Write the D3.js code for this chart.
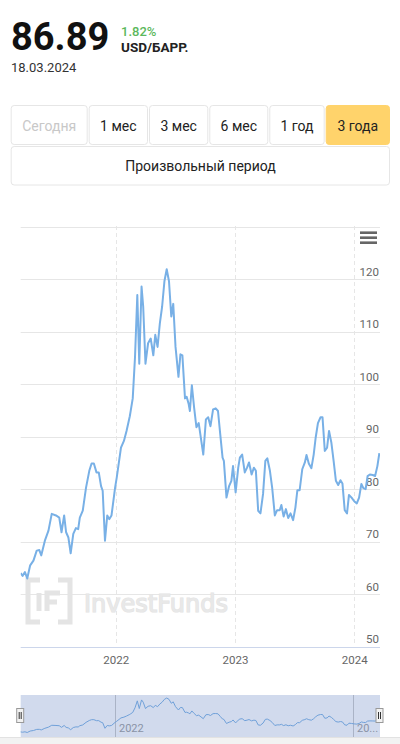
<!DOCTYPE html>
<html><head><meta charset="utf-8">
<script src="https://cdn.jsdelivr.net/npm/d3@7"></script>
<style>
html,body{margin:0;padding:0;background:#fff;}
svg{display:block;font-family:Roboto,"Noto Sans",sans-serif;}
</style></head>
<body>
<svg id="c" width="400" height="744"></svg>
<script>
// ---------- data ----------
const price = "86.89";
const change = "1.82%";
const unit = "USD/БАРР.";
const priceDate = "18.03.2024";
const periodLabels = ["Сегодня","1 мес","3 мес","6 мес","1 год","3 года"];
const customLabel = "Произвольный период";
const yTicks = [50,60,70,80,90,100,110,120];
const yGrid = [50,60,70,80,90,100,110,120,130];
const xTickYears = ["2022","2023","2024"];
const navTickLabels = ["2022","20..."];

const dates = [
"2021-03-16","2021-03-22","2021-03-29","2021-04-05","2021-04-14","2021-04-24","2021-05-04","2021-05-12","2021-05-18","2021-05-29",
"2021-06-09","2021-06-19","2021-07-02","2021-07-12","2021-07-19","2021-07-27","2021-08-02","2021-08-09","2021-08-16","2021-08-24",
"2021-09-01","2021-09-08","2021-09-13","2021-09-22","2021-10-02","2021-10-12","2021-10-19","2021-10-26","2021-11-03","2021-11-10",
"2021-11-17","2021-11-22","2021-11-29","2021-12-06","2021-12-12","2021-12-19","2021-12-30","2022-01-04","2022-01-17","2022-01-26",
"2022-02-03","2022-02-13","2022-02-16","2022-02-22","2022-03-01","2022-03-08","2022-03-14","2022-03-21","2022-03-26","2022-04-02",
"2022-04-10","2022-04-18","2022-04-26","2022-05-02","2022-05-09","2022-05-16","2022-05-23","2022-05-30","2022-06-06","2022-06-13",
"2022-06-20","2022-06-26","2022-07-03","2022-07-12","2022-07-18","2022-07-24","2022-08-01","2022-08-06","2022-08-12","2022-08-16",
"2022-08-22","2022-08-29","2022-09-05","2022-09-12","2022-09-26","2022-10-04","2022-10-11","2022-10-18","2022-10-26","2022-11-03",
"2022-11-10","2022-11-17","2022-11-24","2022-11-28","2022-12-06","2022-12-14","2022-12-21","2022-12-26","2023-01-03","2023-01-11",
"2023-01-16","2023-01-23","2023-01-31","2023-02-07","2023-02-13","2023-02-21","2023-02-28","2023-03-06","2023-03-13","2023-03-20",
"2023-03-28","2023-04-04","2023-04-10","2023-04-18","2023-04-25","2023-05-03","2023-05-10","2023-05-18","2023-05-23","2023-05-30",
"2023-06-06","2023-06-13","2023-06-20","2023-06-28","2023-07-05","2023-07-11","2023-07-18","2023-07-26","2023-08-03","2023-08-08",
"2023-08-15","2023-08-23","2023-08-30","2023-09-05","2023-09-12","2023-09-20","2023-09-26","2023-10-03","2023-10-10","2023-10-16",
"2023-10-23","2023-10-30","2023-11-06","2023-11-13","2023-11-20","2023-11-26","2023-12-03","2023-12-10","2023-12-16","2023-12-24",
"2024-01-01","2024-01-09","2024-01-16","2024-01-23","2024-01-29","2024-02-05","2024-02-11","2024-02-18","2024-02-27","2024-03-05",
"2024-03-12","2024-03-18"
];
const values = [
64.0,63.5,64.2,63.0,65.5,66.4,68.3,68.4,67.4,70.2,
72.1,75.3,75.0,74.6,71.8,75.0,71.8,70.8,67.8,71.5,
72.6,72.4,74.6,75.9,80.3,83.5,84.9,84.9,83.2,83.2,
80.6,79.7,70.2,75.0,74.3,75.0,80.3,82.2,87.9,89.2,
91.1,93.9,95.0,97.3,105.2,117.0,103.9,118.6,114.8,103.9,
107.8,108.7,105.5,109.4,107.1,111.6,114.8,119.6,121.9,119.6,
112.9,115.3,107.1,101.4,105.7,105.5,97.3,97.6,96.3,94.9,
99.8,95.5,91.8,92.6,86.6,93.3,93.7,92.0,95.2,95.4,
94.9,90.4,86.0,85.4,78.4,80.6,81.6,84.4,79.4,84.1,
86.0,86.6,83.2,84.1,85.1,82.8,84.1,83.5,75.9,75.4,
79.1,85.4,85.9,83.5,80.2,75.0,76.0,76.0,77.0,74.8,
76.2,74.5,75.4,74.1,76.5,79.8,79.8,83.8,85.1,86.5,
84.9,84.0,86.6,89.8,92.6,93.7,93.7,87.3,87.9,91.1,
88.9,85.4,81.6,80.8,81.7,81.1,76.0,75.4,78.9,78.4,
77.7,77.3,78.4,81.0,80.2,80.0,82.5,82.8,82.7,82.5,
84.4,86.89
];

// ---------- setup ----------
const parse = d3.utcParse("%Y-%m-%d");
const data = dates.map((d,i)=>({date:parse(d), value:values[i]}));
const svg = d3.select("#c");

// ---------- header ----------
svg.append("text").attr("x",11).attr("y",50).attr("font-size",38).attr("font-weight",700)
  .attr("fill","#111").text(price);
svg.append("text").attr("x",121).attr("y",36).attr("font-size",13).attr("font-weight",500)
  .attr("fill","#5cb85c").text(change);
svg.append("text").attr("x",121).attr("y",52).attr("font-size",13.5).attr("font-weight",700)
  .attr("fill","#222").text(unit);
svg.append("text").attr("x",11).attr("y",72).attr("font-size",13)
  .attr("fill","#333").text(priceDate);

// ---------- period buttons ----------
const btnEdges = [10.7,88.7,149,209.3,269.3,325.7,390];
const btnG = svg.append("g");
periodLabels.forEach((lab,i)=>{
  const x0 = btnEdges[i], x1 = (i===periodLabels.length-1)?btnEdges[i+1]:btnEdges[i+1]-1;
  const active = i===periodLabels.length-1;
  btnG.append("rect").attr("x",x0+0.5).attr("y",105.5).attr("width",x1-x0-1).attr("height",39)
    .attr("rx",3).attr("fill",active?"#ffd36b":"#fff").attr("stroke",active?"#ffd36b":"#e6e6e6");
  btnG.append("text").attr("x",(x0+x1)/2).attr("y",130.5).attr("text-anchor","middle")
    .attr("font-size",14).attr("fill",i===0?"#c8c8c8":"#222").text(lab);
});
btnG.append("rect").attr("x",11.2).attr("y",146.5).attr("width",378.3).attr("height",38.5)
  .attr("rx",3).attr("fill","#fff").attr("stroke","#e6e6e6");
btnG.append("text").attr("x",200.5).attr("y",170.5).attr("text-anchor","middle")
  .attr("font-size",14).attr("fill","#222").text(customLabel);

// ---------- main chart ----------
const left = 20.7, right = 380;
const x = d3.scaleUtc().domain([parse("2021-03-16"), parse("2024-03-20")]).range([left,right]);
const y = d3.scaleLinear().domain([50,130]).range([646.7,226.7]);

const plot = svg.append("g");
plot.selectAll("line.hg").data(yGrid).join("line")
  .attr("x1",left).attr("x2",right).attr("y1",d=>Math.round(y(d))+0.5).attr("y2",d=>Math.round(y(d))+0.5)
  .attr("stroke",(d)=>d===50?"#ccd6eb":"#e6e6e6").attr("stroke-width",1);
const yearDates = xTickYears.map(s=>parse(s+"-01-01"));
plot.selectAll("line.vg").data(yearDates).join("line")
  .attr("x1",d=>Math.round(x(d))+0.5).attr("x2",d=>Math.round(x(d))+0.5)
  .attr("y1",226).attr("y2",646)
  .attr("stroke","#e6e6e6").attr("stroke-dasharray","4,3");
const xAxis = d3.axisBottom(x).tickValues(yearDates).tickFormat(d3.utcFormat("%Y")).tickSize(0).tickPadding(0);
const xg = plot.append("g").attr("transform","translate(0,654)").call(xAxis);
xg.select(".domain").remove();
xg.selectAll("text").attr("font-size",11.5).attr("fill","#666").attr("font-family","Roboto,sans-serif").attr("dy","0.9em");
const yAxis = d3.axisLeft(y).tickValues(yTicks).tickSize(0).tickPadding(0);
const yg = plot.append("g").attr("transform",`translate(${right-1},0)`).call(yAxis);
yg.select(".domain").remove();
yg.selectAll("text").attr("font-size",11.5).attr("fill","#666").attr("font-family","Roboto,sans-serif")
  .attr("dy","-0.35em").attr("text-anchor","end");

svg.append("clipPath").attr("id","pc").append("rect").attr("x",left).attr("y",220).attr("width",right-left).attr("height",430);

// watermark
const wm = svg.append("g").attr("stroke","#e4e4e4").attr("fill","none").attr("stroke-width",5);
wm.append("path").attr("d","M40,580 H28 V622 H40");
wm.append("path").attr("d","M58,580 H70 V622 H58");
wm.append("path").attr("d","M39,593 V611");
wm.append("path").attr("d","M60,593 H47 V611 M47,602 H57");
svg.append("text").attr("x",84).attr("y",612).attr("font-size",24).attr("font-weight",400)
  .attr("fill","none").attr("stroke","#e4e4e4").attr("stroke-width",1.2)
  .attr("textLength",144).attr("lengthAdjust","spacingAndGlyphs")
  .attr("font-family","'DejaVu Sans',sans-serif").text("InvestFunds");
svg.append("text").attr("x",84).attr("y",612).attr("font-size",24).attr("font-weight",400)
  .attr("fill","#e8e8e8")
  .attr("textLength",144).attr("lengthAdjust","spacingAndGlyphs")
  .attr("font-family","'DejaVu Sans',sans-serif").text("InvestFunds");

// main line
const line = d3.line().x(d=>x(d.date)).y(d=>y(d.value)).curve(d3.curveLinear);
svg.append("path").datum(data).attr("clip-path","url(#pc)").attr("d",line)
  .attr("fill","none").attr("stroke","#78b0e6").attr("stroke-width",2).attr("stroke-linejoin","round");

// menu icon
[232.7,237.7,242.7].forEach(yy=>{
  svg.append("line").attr("x1",360).attr("x2",377).attr("y1",yy).attr("y2",yy)
    .attr("stroke","#666").attr("stroke-width",2.6);
});

// ---------- navigator ----------
const navTop = 695, navBot = 737;
const ny = d3.scaleLinear().domain(d3.extent(values)).range([732.5,698]);
const navG = svg.append("g");
navG.append("rect").attr("x",left).attr("y",navTop).attr("width",right-left).attr("height",navBot-navTop)
  .attr("fill","#fff");
const navTickDates = [parse("2022-01-01"),parse("2024-01-01")];
navG.selectAll("line.ng").data(navTickDates).join("line")
  .attr("x1",d=>Math.round(x(d))-0.5).attr("x2",d=>Math.round(x(d))-0.5)
  .attr("y1",navTop).attr("y2",navBot).attr("stroke","#c8c8c8");
const navLine = d3.line().x(d=>x(d.date)).y(d=>ny(d.value));
navG.append("path").datum(data).attr("d",navLine).attr("fill","none").attr("stroke","#74ade3").attr("stroke-width",1);
navG.selectAll("text.nl").data(navTickDates).join("text")
  .attr("x",(d)=>Math.round(x(d))+3).attr("y",732).attr("font-size",11).attr("fill","#999")
  .text((d,i)=>navTickLabels[i]);
navG.append("rect").attr("x",left).attr("y",navTop).attr("width",right-left).attr("height",navBot-navTop)
  .attr("fill","rgba(102,133,194,0.3)");
[left-4.5, right-4.5].forEach(hx=>{
  navG.append("rect").attr("x",hx+0.5).attr("y",708.5).attr("width",7).attr("height",14)
    .attr("fill","#f2f2f2").attr("stroke","#999");
  navG.append("line").attr("x1",hx+3).attr("x2",hx+3).attr("y1",712).attr("y2",719).attr("stroke","#333");
  navG.append("line").attr("x1",hx+5).attr("x2",hx+5).attr("y1",712).attr("y2",719).attr("stroke","#333");
});
svg.append("rect").attr("x",0).attr("y",737).attr("width",400).attr("height",7).attr("fill","#f2f2f2");
svg.append("line").attr("x1",0).attr("x2",400).attr("y1",737.5).attr("y2",737.5).attr("stroke","#e2e2e2");
</script>
</body></html>
